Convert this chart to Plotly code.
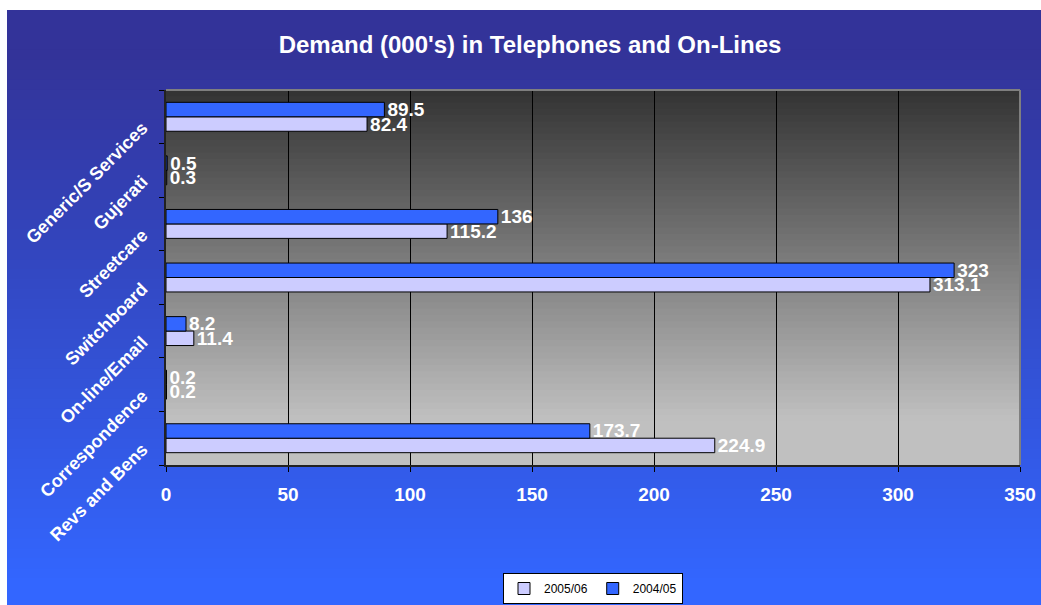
import plotly.graph_objects as go

categories = ["Revs and Bens", "Correspondence", "On-line/Email", "Switchboard",
              "Streetcare", "Gujerati", "Generic/S Services"]
v_2005_06 = [224.9, 0.2, 11.4, 313.1, 115.2, 0.3, 82.4]
v_2004_05 = [173.7, 0.2, 8.2, 323, 136, 0.5, 89.5]
x_ticks = [0, 50, 100, 150, 200, 250, 300, 350]

W, H = 1041, 605
L, R, T, B = 166, 21, 90, 140
PW, PH = W - L - R, H - T - B

def px_x(px):
    return (px - L) / PW

def px_y(py):
    return (H - B - py) / PH

def lerp(c1, c2, t):
    t = max(0.0, min(1.0, t))
    return "rgb(%d,%d,%d)" % tuple(round(a + (b - a) * t) for a, b in zip(c1, c2))

shapes = []
# figure background gradient
N = 60
y0p, y1p = 10, 608
for i in range(N):
    a = y0p + (y1p - y0p) * i / N
    b = y0p + (y1p - y0p) * (i + 1) / N
    t = (i + 0.5) / N
    shapes.append(dict(type="rect", xref="paper", yref="paper", layer="below",
                       x0=px_x(7), x1=px_x(W + 3), y0=px_y(a), y1=px_y(min(b + 3, y1p)),
                       fillcolor=lerp((51, 51, 153), (51, 102, 255), (t - 0.08) / 0.88),
                       line=dict(width=0)))
# plot area gradient
M = 60
for i in range(M):
    t = (i + 0.5) / M
    shapes.append(dict(type="rect", xref="paper", yref="paper", layer="below",
                       x0=0, x1=1, y0=1 - i / M, y1=max(0, 1 - (i + 1) / M - 0.006),
                       fillcolor=lerp((51, 51, 51), (192, 192, 192), t / 0.88),
                       line=dict(width=0)))
# plot area border (top / right, grey)
shapes.append(dict(type="line", xref="paper", yref="paper", x0=0, x1=1, y0=1, y1=1,
                   line=dict(color="#7f7f7f", width=2)))
shapes.append(dict(type="line", xref="paper", yref="paper", x0=1, x1=1, y0=0, y1=1,
                   line=dict(color="#7f7f7f", width=2)))

label_font = dict(color="white", size=19, family="Liberation Sans, Arial")

fig = go.Figure()
fig.add_trace(go.Bar(
    y=categories, x=v_2005_06, orientation="h", name="2005/06",
    marker=dict(color="#CCCCFF", line=dict(color="black", width=1)),
    text=[f"<b>{v}</b>" for v in v_2005_06], textposition="outside",
    textfont=label_font, constraintext="none", cliponaxis=False))
fig.add_trace(go.Bar(
    y=categories, x=v_2004_05, orientation="h", name="2004/05",
    marker=dict(color="#3366FF", line=dict(color="black", width=1)),
    text=[f"<b>{v}</b>" for v in v_2004_05], textposition="outside",
    textfont=label_font, constraintext="none", cliponaxis=False))

fig.update_layout(
    width=W, height=H,
    margin=dict(l=L, r=R, t=T, b=B, autoexpand=False),
    paper_bgcolor="white",
    plot_bgcolor="rgba(0,0,0,0)",
    barmode="group", bargap=0.46, bargroupgap=0,
    shapes=shapes,
    font=dict(family="Liberation Sans, Arial", color="white"),
    title=dict(text="<b>Demand (000's) in Telephones and On-Lines</b>",
               font=dict(size=24, color="white", family="Liberation Sans, Arial"),
               x=530 / W, xanchor="center", xref="container",
               y=1 - 45 / H, yanchor="middle", yref="container"),
    xaxis=dict(range=[0, 350], tickvals=x_ticks, ticktext=[f"<b>{v}</b>" for v in x_ticks],
               tickfont=dict(size=19, color="white"), ticklabelstandoff=6,
               showgrid=True, gridcolor="black", gridwidth=1,
               showline=True, linecolor="#222222", linewidth=2,
               ticks="outside", ticklen=5, tickcolor="black",
               zeroline=False, fixedrange=True, automargin=False),
    yaxis=dict(categoryorder="array", categoryarray=categories,
               tickvals=categories, ticktext=[f"<b>{c}</b>" for c in categories],
               tickangle=-45, tickfont=dict(size=18, color="white"),
               ticklabelstandoff=18, ticklabelshift=9,
               tickson="boundaries", ticks="outside", ticklen=5, tickcolor="black",
               showline=True, linecolor="#222222", linewidth=2,
               showgrid=False, zeroline=False, fixedrange=True, automargin=False),
    legend=dict(orientation="h", x=0.5, xanchor="center", y=px_y(573), yanchor="top",
                bgcolor="white", bordercolor="black", borderwidth=1,
                font=dict(size=12, color="black", family="Liberation Sans, Arial"),
                traceorder="normal", itemwidth=30, tracegroupgap=0),
    showlegend=True,
)

fig.write_html("out.html")
